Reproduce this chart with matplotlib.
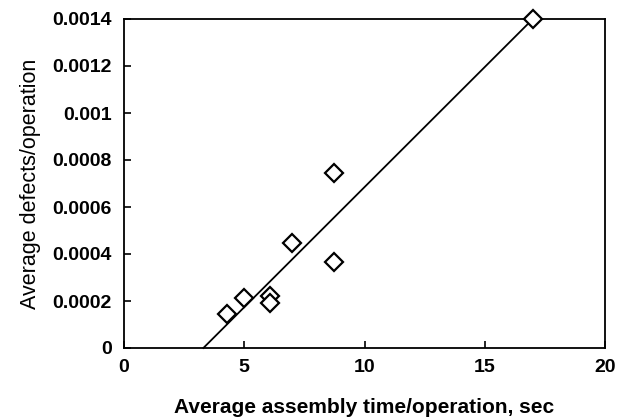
import matplotlib
matplotlib.use("Agg")
import matplotlib.pyplot as plt

assembly_time = [17.0, 4.3, 5.0, 6.07, 6.07, 6.97, 8.74, 8.74]
defects = [0.0014, 0.000145, 0.000213, 0.000222, 0.000191, 0.000445, 0.000367, 0.000743]
fit_x = [3.3, 17.0]
fit_y = [0.0, 0.0014]
x_ticks = [0, 5, 10, 15, 20]
y_ticks = [0, 0.0002, 0.0004, 0.0006, 0.0008, 0.001, 0.0012, 0.0014]
y_tick_labels = ["0", "0.0002", "0.0004", "0.0006", "0.0008", "0.001", "0.0012", "0.0014"]

plt.rcParams['font.family'] = ['Liberation Sans', 'DejaVu Sans']
fig = plt.figure(figsize=(6.18, 4.18), dpi=100)
ax = fig.add_axes([124/618, 70/418, 481/618, 329/418])
ax.plot(fit_x, fit_y, color='black', lw=1.3, clip_on=False)
ax.plot(assembly_time, defects, linestyle='none', marker='D', markersize=9.5,
        markerfacecolor='white', markeredgecolor='black', markeredgewidth=1.6,
        clip_on=False, zorder=5)
ax.set_xlim(0, 20)
ax.set_ylim(0, 0.0014)
ax.set_xticks(x_ticks)
ax.set_xticklabels([str(v) for v in x_ticks])
ax.set_yticks(y_ticks)
ax.set_yticklabels(y_tick_labels)
ax.tick_params(direction='in', length=5, width=1.2, labelsize=14)
ax.tick_params(axis='y', pad=9)
ax.tick_params(axis='x', pad=8)
ax.tick_params(top=False, right=False)
for lab in ax.get_xticklabels() + ax.get_yticklabels():
    lab.set_fontweight('bold')
for s in ax.spines.values():
    s.set_linewidth(1.3)
ax.set_xlabel("Average assembly time/operation, sec", fontsize=15, fontweight='bold', labelpad=16)
ax.set_ylabel("Average defects/operation", fontsize=15.5, labelpad=8)
fig.savefig("out.png", dpi=100)
